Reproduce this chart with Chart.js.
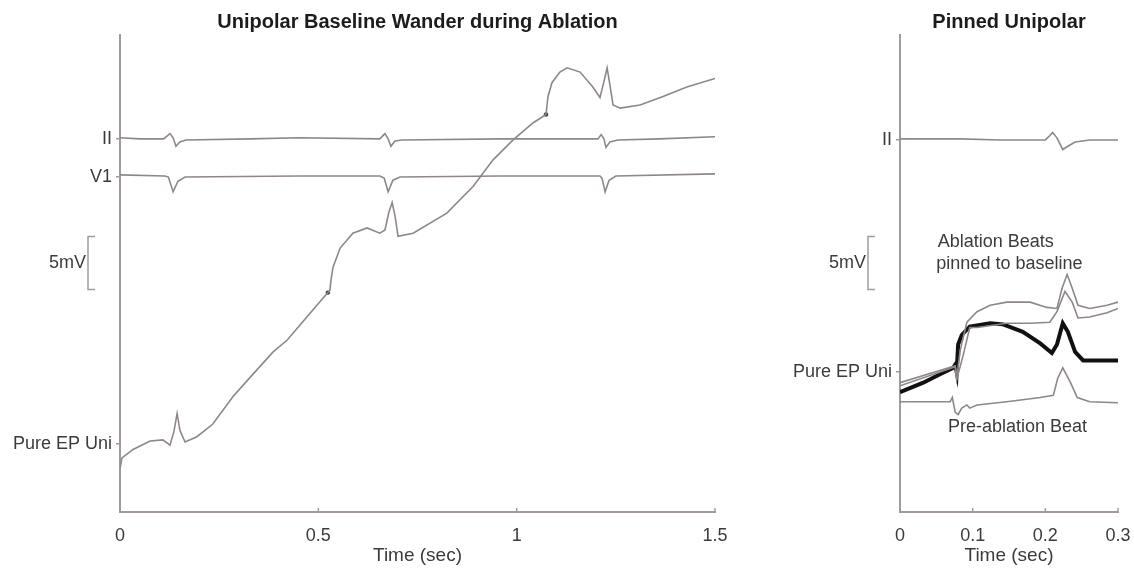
<!DOCTYPE html>
<html>
<head>
<meta charset="utf-8">
<script src="https://cdn.jsdelivr.net/npm/chart.js@4.4.1/dist/chart.umd.min.js"></script>
<style>
  body { margin: 0; background: #fff; width: 1134px; height: 570px; overflow: hidden; }
  #left { position: absolute; left: 0; top: 0; }
  #right { position: absolute; left: 760px; top: 0; }
</style>
</head>
<body>
<canvas id="left" width="740" height="570"></canvas>
<canvas id="right" width="374" height="570"></canvas>
<script>
// ---- data: left panel (time in sec, value in mV) ----
const leftTitle = 'Unipolar Baseline Wander during Ablation';
const leftXTicks = [0, 0.5, 1, 1.5];
const leftYTickValues = [35.2, 31.6, 6.4];
const leftYTickLabels = ['II', 'V1', 'Pure EP Uni'];

const leadIITime = [0, 0.05, 0.11, 0.126, 0.134, 0.141, 0.151, 0.166, 0.33, 0.45, 0.655, 0.668, 0.676, 0.683, 0.693, 0.711, 0.96, 1.11, 1.205, 1.213, 1.22, 1.225, 1.235, 1.255, 1.36, 1.5];
const leadIIValues = [35.3, 35.2, 35.2, 35.7, 35.3, 34.5, 34.9, 35.1, 35.2, 35.3, 35.2, 35.7, 35.2, 34.5, 35.0, 35.1, 35.2, 35.2, 35.2, 35.6, 35.2, 34.4, 34.9, 35.1, 35.2, 35.4];

const leadV1Time = [0, 0.113, 0.122, 0.134, 0.146, 0.164, 0.45, 0.655, 0.666, 0.676, 0.688, 0.706, 0.96, 1.21, 1.215, 1.223, 1.233, 1.25, 1.5];
const leadV1Values = [31.8, 31.7, 31.6, 30.2, 31.2, 31.6, 31.7, 31.7, 31.5, 30.2, 31.3, 31.6, 31.7, 31.7, 31.5, 30.2, 31.3, 31.7, 31.9];

const uniTime = [0, 0.005, 0.033, 0.076, 0.108, 0.126, 0.136, 0.144, 0.151, 0.164, 0.194, 0.234, 0.285, 0.328, 0.386, 0.421, 0.471, 0.524, 0.529, 0.532, 0.537, 0.555, 0.587, 0.623, 0.655, 0.668, 0.678, 0.686, 0.693, 0.701, 0.739, 0.824, 0.89, 0.94, 0.991, 1.041, 1.074, 1.079, 1.089, 1.109, 1.127, 1.16, 1.192, 1.21, 1.218, 1.228, 1.235, 1.243, 1.261, 1.311, 1.369, 1.429, 1.5];
const uniValues = [4.1, 5.1, 5.9, 6.7, 6.8, 6.3, 7.6, 9.3, 7.7, 6.6, 7.1, 8.3, 10.9, 12.7, 15.1, 16.2, 18.4, 20.7, 20.9, 21.9, 23.1, 24.9, 26.3, 26.8, 26.3, 26.6, 28.3, 29.2, 28.0, 26.0, 26.3, 28.2, 30.7, 33.2, 35.1, 36.7, 37.5, 39.2, 40.5, 41.5, 41.9, 41.5, 40.1, 39.1, 40.3, 41.9, 40.3, 38.4, 38.1, 38.4, 39.2, 40.1, 40.9];

// small dark marks on the unipolar trace
const uniMarkTime = [0.524, 1.074];
const uniMarkValues = [20.7, 37.5];

// ---- data: right panel ----
const rightTitle = 'Pinned Unipolar';
const rightXTicks = [0, 0.1, 0.2, 0.3];
const rightYTickValues = [35.1, 13.2];
const rightYTickLabels = ['II', 'Pure EP Uni'];

const pinIITime = [0, 0.083, 0.138, 0.2, 0.206, 0.21, 0.216, 0.224, 0.231, 0.241, 0.261, 0.3];
const pinIIValues = [35.2, 35.2, 35.1, 35.1, 35.5, 35.8, 35.3, 34.2, 34.5, 34.9, 35.1, 35.1];

const pinnedTime = [0, 0.032, 0.055, 0.073, 0.076, 0.078, 0.08, 0.085, 0.096, 0.124, 0.142, 0.169, 0.193, 0.209, 0.216, 0.224, 0.231, 0.241, 0.252, 0.271, 0.3];
const pinnedValues = [11.3, 12.2, 13.0, 13.6, 13.9, 13.2, 15.8, 16.7, 17.5, 17.8, 17.7, 17.0, 15.9, 15.0, 15.8, 17.8, 17.0, 15.1, 14.3, 14.3, 14.3];

const ablationATime = [0, 0.076, 0.078, 0.083, 0.092, 0.106, 0.124, 0.147, 0.179, 0.202, 0.216, 0.223, 0.23, 0.237, 0.245, 0.261, 0.285, 0.3];
const ablationAValues = [12.2, 13.8, 12.6, 15.3, 17.9, 18.9, 19.5, 19.8, 19.8, 19.3, 19.2, 21.1, 22.4, 21.1, 19.5, 19.2, 19.5, 19.8];

const ablationBTime = [0, 0.076, 0.078, 0.087, 0.096, 0.106, 0.147, 0.179, 0.206, 0.216, 0.227, 0.237, 0.245, 0.261, 0.285, 0.3];
const ablationBValues = [11.9, 13.7, 12.5, 14.8, 17.4, 17.4, 17.8, 17.8, 17.9, 18.9, 20.8, 19.8, 18.3, 18.4, 18.8, 19.2];

const preAblationTime = [0, 0.069, 0.072, 0.076, 0.08, 0.085, 0.092, 0.096, 0.106, 0.147, 0.193, 0.211, 0.217, 0.224, 0.234, 0.244, 0.261, 0.3];
const preAblationValues = [10.4, 10.4, 10.8, 9.4, 9.2, 9.8, 10.1, 9.8, 10.1, 10.4, 10.8, 11.0, 12.6, 13.6, 12.3, 10.8, 10.4, 10.3];

// 5 mV scale bar, bottom edge in mV
const scaleBarBottom = 21;
const scaleBarSize = 5;

const traceColor = '#8f8786';
const axisColor = '#a39b99';
const textColor = '#3b3b3b';

Chart.defaults.font.family = '"Liberation Sans", Arial, sans-serif';
Chart.defaults.color = textColor;

function toPoints(times, values) {
    return times.map((t, i) => ({ x: t, y: values[i] }));
}

function trace(times, values, color, width) {
    return {
        data: toPoints(times, values),
        borderColor: color,
        borderWidth: width,
        pointRadius: 0,
        tension: 0,
        fill: false
    };
}

// draws title, scale bar, inward x ticks and free text for a panel
function decorPlugin(title, notes) {
    return {
        id: 'decor',
        afterDraw(chart) {
            const ctx = chart.ctx;
            const area = chart.chartArea;
            const x = chart.scales.x;
            const y = chart.scales.y;
            ctx.save();
            ctx.fillStyle = '#1c1c1c';
            ctx.font = 'bold 20px "Liberation Sans", Arial, sans-serif';
            ctx.textAlign = 'center';
            ctx.textBaseline = 'middle';
            ctx.fillText(title, (area.left + area.right) / 2, 22);

            // small inward ticks on the time axis
            ctx.strokeStyle = axisColor;
            ctx.lineWidth = 1.5;
            x.ticks.forEach(t => {
                const px = x.getPixelForValue(t.value);
                ctx.beginPath();
                ctx.moveTo(px, area.bottom);
                ctx.lineTo(px, area.bottom - 4);
                ctx.stroke();
            });

            // 5mV bracket
            const top = y.getPixelForValue(scaleBarBottom + scaleBarSize);
            const bottom = y.getPixelForValue(scaleBarBottom);
            const bx = area.left - 32;
            ctx.beginPath();
            ctx.moveTo(bx + 7, top);
            ctx.lineTo(bx, top);
            ctx.lineTo(bx, bottom);
            ctx.lineTo(bx + 7, bottom);
            ctx.stroke();
            ctx.fillStyle = textColor;
            ctx.font = '18px "Liberation Sans", Arial, sans-serif';
            ctx.textAlign = 'right';
            ctx.fillText('5mV', bx - 2, (top + bottom) / 2);

            ctx.textAlign = 'left';
            notes.forEach(n => {
                ctx.fillText(n.text, x.getPixelForValue(n.x), y.getPixelForValue(n.y));
            });
            ctx.restore();
        }
    };
}

function makeOptions(xTicks, yValues, yLabels, yWidth, padRight) {
    return {
        responsive: false,
        animation: false,
        layout: { padding: { top: 35, right: padRight, left: 0, bottom: 0 } },
        plugins: { legend: { display: false }, tooltip: { enabled: false }, title: { display: false } },
        scales: {
            x: {
                type: 'linear',
                min: xTicks[0],
                max: xTicks[xTicks.length - 1],
                afterBuildTicks: s => { s.ticks = xTicks.map(v => ({ value: v })); },
                afterFit: s => { s.height = 58; s.paddingLeft = 0; s.paddingRight = 0; },
                grid: { display: false, drawTicks: false },
                border: { display: true, color: axisColor, width: 2 },
                ticks: { padding: 13, font: { size: 18 }, color: textColor, callback: v => String(v) },
                title: { display: true, text: 'Time (sec)', font: { size: 19 }, color: textColor, padding: { top: 0, bottom: 3 } }
            },
            y: {
                type: 'linear',
                min: 0,
                max: 45,
                afterBuildTicks: s => { s.ticks = yValues.map(v => ({ value: v })); },
                afterFit: s => { s.width = yWidth; s.paddingTop = 0; s.paddingBottom = 0; },
                grid: { display: true, drawOnChartArea: false, drawTicks: true, tickLength: 4, color: axisColor, lineWidth: 1.5 },
                border: { display: true, color: axisColor, width: 2 },
                ticks: { padding: 4, autoSkip: false, font: { size: 18 }, color: textColor, callback: (v, i) => yLabels[i] }
            }
        }
    };
}

new Chart(document.getElementById('left'), {
    type: 'line',
    data: {
        datasets: [
            trace(leadIITime, leadIIValues, traceColor, 1.6),
            trace(leadV1Time, leadV1Values, traceColor, 1.6),
            trace(uniTime, uniValues, traceColor, 1.6),
            {
                type: 'scatter',
                data: toPoints(uniMarkTime, uniMarkValues),
                pointRadius: 2.2,
                pointBackgroundColor: '#3a3434',
                pointBorderWidth: 0
            }
        ]
    },
    options: makeOptions(leftXTicks, leftYTickValues, leftYTickLabels, 120, 25),
    plugins: [decorPlugin(leftTitle, [])]
});

new Chart(document.getElementById('right'), {
    type: 'line',
    data: {
        datasets: [
            trace(pinIITime, pinIIValues, traceColor, 1.6),
            trace(preAblationTime, preAblationValues, traceColor, 1.6),
            trace(ablationATime, ablationAValues, traceColor, 1.6),
            trace(ablationBTime, ablationBValues, traceColor, 1.6),
            trace(pinnedTime, pinnedValues, '#111111', 4)
        ]
    },
    options: makeOptions(rightXTicks, rightYTickValues, rightYTickLabels, 140, 16),
    plugins: [decorPlugin(rightTitle, [
        { text: 'Ablation Beats', x: 0.052, y: 25.5 },
        { text: 'pinned to baseline', x: 0.05, y: 23.4 },
        { text: 'Pre-ablation Beat', x: 0.066, y: 8.0 }
    ])]
});
</script>
</body>
</html>
